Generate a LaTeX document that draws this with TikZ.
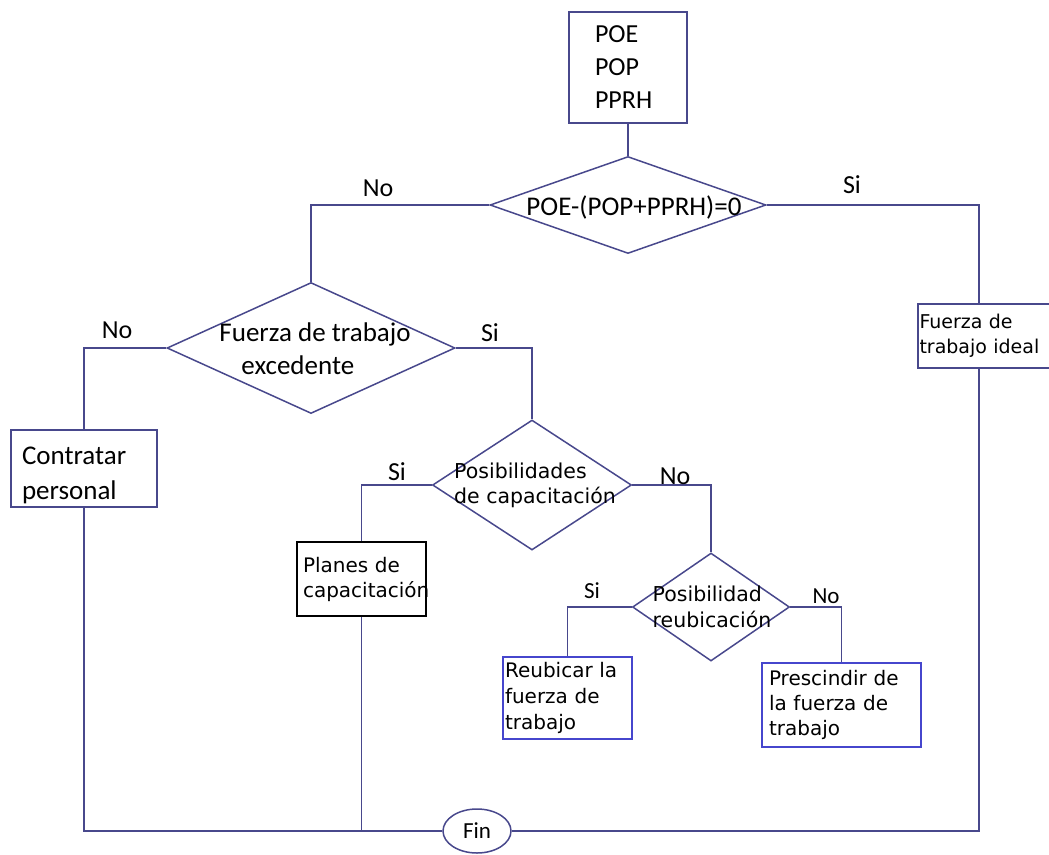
\documentclass[tikz,border=0pt]{standalone}
\usepackage{fontspec}
\setmainfont{Carlito}
\newfontfamily\dejavu{DejaVu Sans}
\usetikzlibrary{shapes.geometric}
\definecolor{flowline}{RGB}{72,72,140}
\definecolor{boxblue}{RGB}{70,70,205}

\begin{document}
\begin{tikzpicture}[x=1pt,y=-1pt,
  conn/.style={draw=flowline, line width=1.7pt},
  decision/.style={diamond, draw=flowline, line width=1.5pt, inner sep=0pt},
  procbox/.style={rectangle, draw=flowline, line width=1.7pt, inner ysep=0pt, align=left},
  bigtext/.style={font=\fontsize{27}{33}\selectfont},
  smalltext/.style={font=\dejavu\fontsize{20}{25}\selectfont},
  answer/.style={font=\fontsize{26}{30}\selectfont, anchor=base, inner sep=0pt},
  smallanswer/.style={font=\fontsize{23}{28}\selectfont, anchor=base, inner sep=0pt},
  ]
\useasboundingbox (0,0) rectangle (1049,854);

% process boxes
\node[procbox, minimum width=118pt, minimum height=111pt, text width=66pt, inner xsep=26pt,
      font=\fontsize{26}{33}\selectfont] (datos) at (628,67.5) {POE\\POP\\PPRH};
\node[procbox, minimum width=146pt, minimum height=77pt, text width=124pt, inner xsep=11pt,
      font=\fontsize{27}{35}\selectfont] (contratar) at (84,468.5) {\rule{0pt}{32pt}Contratar\\personal};
\node[procbox, smalltext, font=\dejavu\fontsize{19}{25}\selectfont, minimum width=150pt, minimum height=64pt,
      text width=147pt, inner xsep=1.5pt] (ideal) at (993,336) {Fuerza de\\trabajo ideal};
\node[procbox, smalltext, draw=black, minimum width=129pt, minimum height=74pt,
      text width=117pt, inner xsep=6pt] (planes) at (361.5,579) {Planes de\\capacitación};
\node[procbox, smalltext, draw=boxblue, minimum width=129pt, minimum height=82pt,
      text width=125pt, inner xsep=2pt, font=\dejavu\fontsize{20}{26}\selectfont] (reubicar) at (567.5,698) {Reubicar la\\fuerza de\\trabajo};
\node[procbox, smalltext, draw=boxblue, minimum width=159pt, minimum height=84pt,
      text width=145pt, inner xsep=7pt] (prescindir) at (841.5,705) {Prescindir de\\la fuerza de\\trabajo};

% decisions
\node[decision, minimum width=276pt, minimum height=97pt] (d1) at (628,205) {};
\node[decision, minimum width=288pt, minimum height=131pt] (d2) at (311,348) {};
\node[decision, minimum width=199pt, minimum height=130pt] (d3) at (532,485) {};
\node[decision, minimum width=157pt, minimum height=108pt] (d4) at (711,607) {};

% decision texts
\node[bigtext, inner sep=0pt, anchor=base] (d1t) at (634,215) {POE-(POP+PPRH)=0};
\node[bigtext, inner sep=0pt, align=left] (d2t) at (315,349) {Fuerza de trabajo\\\hspace*{22pt}excedente};
\node[smalltext, font=\dejavu\fontsize{20.5}{25}\selectfont, inner sep=0pt, align=left] (d3t) at (535,485) {Posibilidades\\de capacitación};
\node[smalltext, font=\dejavu\fontsize{20.5}{26}\selectfont, inner sep=0pt, align=left] (d4t) at (712,607) {Posibilidad\\reubicación};

% terminator
\node[ellipse, draw=flowline, line width=1.5pt, minimum width=68pt, minimum height=44pt,
      inner sep=0pt, font=\fontsize{23}{26}\selectfont] (fin) at (477,831) {Fin};

% column points on the ideal box
\path (ideal.north west) ++(62,0) coordinate (idealin);
\path (ideal.south west) ++(62,0) coordinate (idealout);

% connectors
\draw[conn] (datos.south) -- (d1.north);
\draw[conn] (d1.west) -| (d2.north);
\draw[conn] (d1.east) -| (idealin);
\draw[conn] (d2.west) -| (contratar.north);
\draw[conn] (d2.east) -| (d3.north);
\draw[conn] (d3.west) -| (planes.north);
\draw[conn] (d3.east) -| (d4.north);
\draw[conn] (d4.west) -| (reubicar.north);
\draw[conn] (d4.east) -| (prescindir.north);
\draw[conn] (contratar.south) |- (fin.west);
\draw[conn] (planes.south) -- (planes.south |- fin.west);
\draw[conn] (idealout) |- (fin.east);

% branch labels
\node[answer] (no1) at (378,196) {No};
\node[answer] (si1) at (852,193) {Si};
\node[answer] (no2) at (117,338) {No};
\node[answer] (si2) at (490,341) {Si};
\node[answer] (si3) at (397,480) {Si};
\node[answer] (no3) at (675,484) {No};
\node[smallanswer] (si4) at (592,598) {Si};
\node[smallanswer] (no4) at (826,603) {No};
\end{tikzpicture}
\end{document}
